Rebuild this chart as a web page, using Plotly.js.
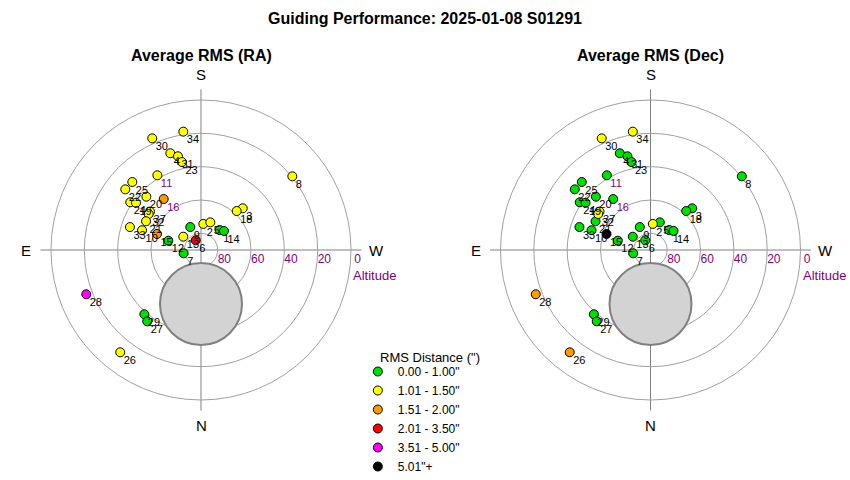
<!DOCTYPE html>
<html><head><meta charset="utf-8">
<script src="https://cdn.plot.ly/plotly-3.0.1.min.js"></script>
<style>html,body{margin:0;padding:0;background:#fff}#chart{width:850px;height:480px}</style>
</head><body><div id="chart"></div>
<script>
// ---- data ----
const pointLabels = ['34','30','4','31','23','11','25','22','20','24','19','37','32','21','15','33','10','16','12','13','9','6','7','2','5','1','14','3','18','8','28','29','27','26'];
const azimuth  = [171.5,156.4,162.4,166.2,167.8,149.7,134.7,128.7,134.3,124.0,126.0,127.0,124.5,117.6,110.0,107.9,108.5,143.8,105.9,126.9,155.0,151.4,79.2,185.1,198.6,223.1,230.4,225.0,222.5,231.1,68.9,41.4,37.0,38.3];
const altitude = [18.2,16.9,29.1,32.1,36.0,38.1,32.0,31.8,44.2,38.8,41.8,51.7,51.9,52.8,61.9,45.2,52.7,52.1,69.6,76.7,74.8,83.4,79.4,74.3,72.5,73.6,72.1,54.6,58.3,19.6,16.2,38.6,36.4,11.8];
// RMS class index: 0 green, 1 yellow, 2 orange, 3 red, 4 magenta, 5 black
const rmsClassRA  = [1,1,1,1,1,1,1,1,1,1,1,1,1,1,2,1,1,2,0,1,0,3,0,1,1,0,0,1,1,1,4,0,0,1];
const rmsClassDec = [1,1,0,0,0,0,0,0,0,0,0,1,1,0,5,0,0,0,0,0,0,0,0,1,0,0,0,0,0,0,2,0,0,2];
const rmsClassNames  = ['0.00 - 1.00"','1.01 - 1.50"','1.51 - 2.00"','2.01 - 3.50"','3.51 - 5.00"','5.01"+'];
const rmsClassColors = ['#00e000','#ffff00','#ff9900','#ff0000','#ff00ff','#000000'];
const purpleLabels = ['11','16'];
const altitudeTicks = [80,60,40,20,0];
const compassAz = [0,90,180,270];
const compassLabels = ['N','E','S','W'];
const poleAz = [0];
const poleAlt = [57.6];

const FONT = 'Liberation Sans, Arial, sans-serif';
const zen = a => a.map(v => 90 - v);
const NB = '\u00a0\u00a0\u00a0\u00a0';

function buildTraces(classes, polarId, legendShown) {
  const tr = [];
  tr.push({type:'scatterpolar', subplot:polarId, mode:'markers', r:zen(poleAlt), theta:poleAz,
    marker:{size:82, color:'#d3d3d3', line:{color:'#808080', width:2}}, showlegend:false, hoverinfo:'skip'});
  for (let c = 0; c < rmsClassNames.length; c++) {
    const idx = classes.map((v,i)=>v===c?i:-1).filter(i=>i>=0);
    if (!idx.length) continue;
    const show = !legendShown.has(c);
    if (show) legendShown.add(c);
    tr.push({type:'scatterpolar', subplot:polarId, mode:'markers',
      r: idx.map(i=>90-altitude[i]), theta: idx.map(i=>azimuth[i]),
      name: rmsClassNames[c], legendrank: c+1, showlegend: show,
      marker:{size:9, color:rmsClassColors[c], line:{color:'#000', width:1}}, hoverinfo:'skip'});
  }
  tr.push({type:'scatterpolar', subplot:polarId, mode:'markers+text',
    r: zen(altitude), theta: azimuth, text: pointLabels, textposition:'bottom right',
    textfont:{size:11, family:FONT, color: pointLabels.map(l=>purpleLabels.includes(l)?'#800080':'#000')},
    marker:{size:4, opacity:0}, showlegend:false, hoverinfo:'skip'});
  return tr;
}
const shown = new Set();
const traces = [...buildTraces(rmsClassRA,'polar',shown), ...buildTraces(rmsClassDec,'polar2',shown)];

function polarCfg(xd) {
  return {
    domain:{x:xd, y:[0.14479,0.81354]}, bgcolor:'#fff',
    radialaxis:{range:[0,96.3], tickvals:zen(altitudeTicks), ticktext:altitudeTicks.map(v=>NB+v),
      angle:0, side:'clockwise', showline:false, ticks:'', gridcolor:'#a0a0a0', gridwidth:1,
      tickfont:{color:'#800080', size:12, family:FONT}},
    angularaxis:{rotation:-90, direction:'clockwise', tickmode:'array', tickvals:compassAz,
      showticklabels:false, showline:false, ticks:'', gridcolor:'#808080', gridwidth:1}
  };
}

function ann(text, px, py, size, color) {
  return {text, x:px/850, y:1-py/480, xref:'paper', yref:'paper', xanchor:'center', yanchor:'middle',
    showarrow:false, font:{size, color:color||'#000', family:FONT}};
}
// compass letter placement around each dial (paper pixels)
const dialCenters = [[201,250],[650.5,250]];
const compassOffsets = [[0,175],[-175,0],[0,-176],[175,0]];
const annotations = [
  ann('<b>Guiding Performance: 2025-01-08 S01291</b>', 425, 19, 16),
  ann('<b>Average RMS (RA)</b>', 201, 55, 16),
  ann('<b>Average RMS (Dec)</b>', 650.5, 55, 16),
  ann('Altitude', 374, 275, 13, '#800080'),
  ann('Altitude', 824, 275, 13, '#800080'),
  ann('RMS Distance (")', 430, 357, 13)
];
dialCenters.forEach(([cx,cy]) => compassLabels.forEach((l,i) =>
  annotations.push(ann(l, cx+compassOffsets[i][0], cy+compassOffsets[i][1], 15))));

const layout = {
  width:850, height:480, margin:{l:0,r:0,t:0,b:0,autoexpand:false},
  paper_bgcolor:'#fff', font:{family:FONT, color:'#000'},
  polar: polarCfg([0.04765,0.42529]),
  polar2: polarCfg([0.57647,0.95412]),
  showlegend:true,
  legend:{x:0.421, y:1-357/480, xanchor:'left', yanchor:'top', font:{size:12, family:FONT}, bgcolor:'rgba(0,0,0,0)', tracegroupgap:0},
  annotations
};
Plotly.newPlot('chart', traces, layout, {displayModeBar:false, staticPlot:true});
</script></body></html>
